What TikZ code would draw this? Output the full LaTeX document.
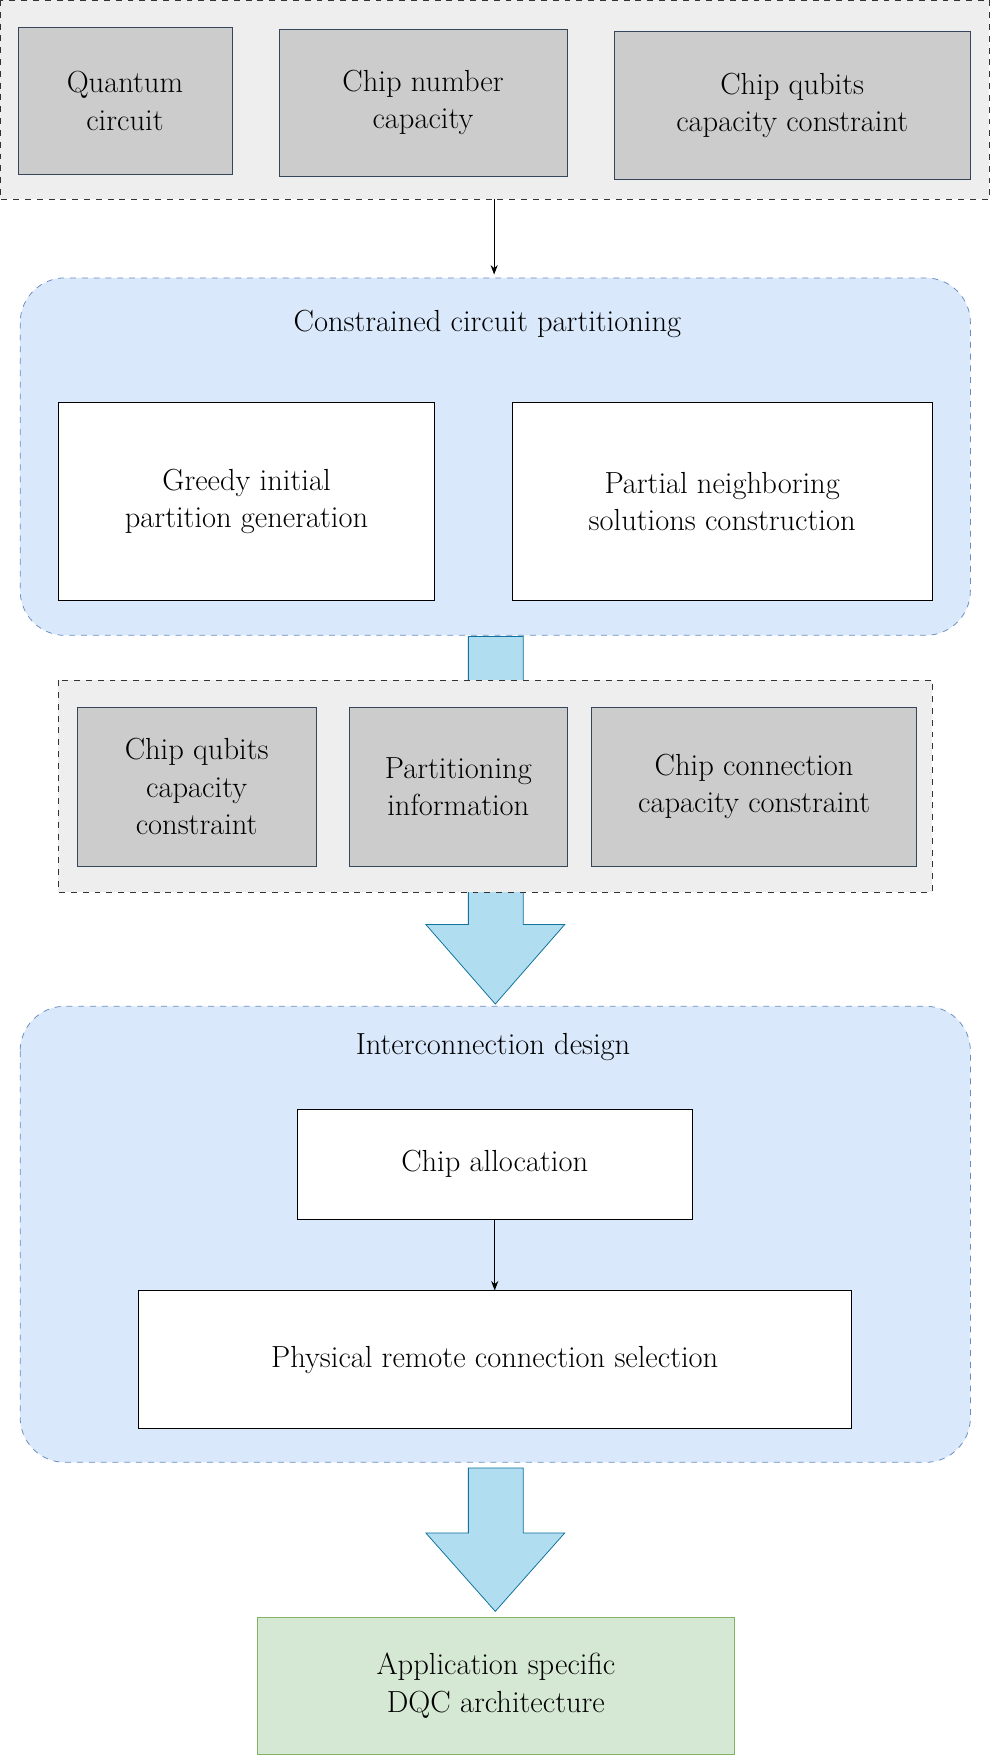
\documentclass[tikz,border=0pt]{standalone}
\usepackage{tikz}
\usetikzlibrary{arrows.meta,positioning}
\definecolor{panelgray}{HTML}{EEEEEE}
\definecolor{inputgray}{HTML}{CCCCCC}
\definecolor{inputline}{HTML}{36465A}
\definecolor{stageblue}{HTML}{DAE8FC}
\definecolor{stageline}{HTML}{6C8EBF}
\definecolor{flowfill}{HTML}{B1DDF0}
\definecolor{flowline}{HTML}{10739E}
\definecolor{outfill}{HTML}{D5E8D4}
\definecolor{outline}{HTML}{82B366}
\tikzset{
  inputbox/.style={draw=inputline,fill=inputgray,align=center,inner sep=0pt},
  stepbox/.style={draw=black,fill=white,align=center,inner sep=0pt},
  panel/.style={draw=black!80,dashed,fill=panelgray},
  stage/.style={draw=stageline,dashed,fill=stageblue,rounded corners=0.8cm},
  flow/.style={draw=flowline,fill=flowfill},
}
\begin{document}
\fontsize{15.5}{19}\selectfont
\begin{tikzpicture}[x=0.02cm,y=-0.02cm,>=Stealth]
  \useasboundingbox (0,0) rectangle (885,1568);
  % inputs
  \draw[panel] (0,0) rectangle (883,178);
  \node[inputbox,minimum width=3.82cm,minimum height=2.64cm] (qc) at (111.5,90) {Quantum\\circuit};
  \node[inputbox,minimum width=5.14cm,minimum height=2.62cm] (cnc) at (377.5,91.5) {Chip number\\capacity};
  \node[inputbox,minimum width=6.36cm,minimum height=2.64cm] (cqc) at (707,94) {Chip qubits\\capacity constraint};
  \coordinate (inbot) at (441,178);
  % partitioning stage
  \draw[stage] (18,248) rectangle (866,567);
  \node (parttitle) at (435,289) {Constrained circuit partitioning};
  \coordinate (parttop) at (441,245);
  \draw[->] (inbot) -- (parttop);
  \node[stepbox,minimum width=6.72cm,minimum height=3.54cm] (greedy) at (220,447.5) {Greedy initial\\partition generation};
  \node[stepbox,minimum width=7.5cm,minimum height=3.54cm] (partial) at (644.5,447.5) {Partial neighboring\\solutions construction};
  % first flow arrow
  \draw[flow] (418,568) -- (467,568) -- (467,825) -- (504,825) -- (442,896)
    -- (380,825) -- (418,825) -- cycle;
  \draw[panel] (52,607) rectangle (832,796);
  \node[inputbox,minimum width=4.26cm,minimum height=2.84cm] (qubits) at (175.5,702) {Chip qubits\\capacity\\constraint};
  \node[inputbox,minimum width=3.88cm,minimum height=2.84cm] (info) at (409,702) {Partitioning\\information};
  \node[inputbox,minimum width=5.8cm,minimum height=2.84cm] (conn) at (673,702) {Chip connection\\capacity constraint};
  % interconnection stage
  \draw[stage] (18,898) rectangle (866,1305);
  \node (designtitle) at (440,934) {Interconnection design};
  \node[stepbox,minimum width=7.06cm,minimum height=1.96cm] (alloc) at (441.5,1039) {Chip allocation};
  \node[stepbox,minimum width=12.74cm,minimum height=2.46cm] (phys) at (441.5,1213.5) {Physical remote connection selection};
  \draw[->] (alloc) -- (phys);
  % second flow arrow
  \draw[flow] (418,1310) -- (467,1310) -- (467,1368) -- (504,1368) -- (442,1438)
    -- (380,1368) -- (418,1368) -- cycle;
  \node[draw=outline,fill=outfill,align=center,inner sep=0pt,minimum width=8.5cm,minimum height=2.46cm] (arch) at (442.5,1504.5) {Application specific\\DQC architecture};
\end{tikzpicture}
\end{document}
